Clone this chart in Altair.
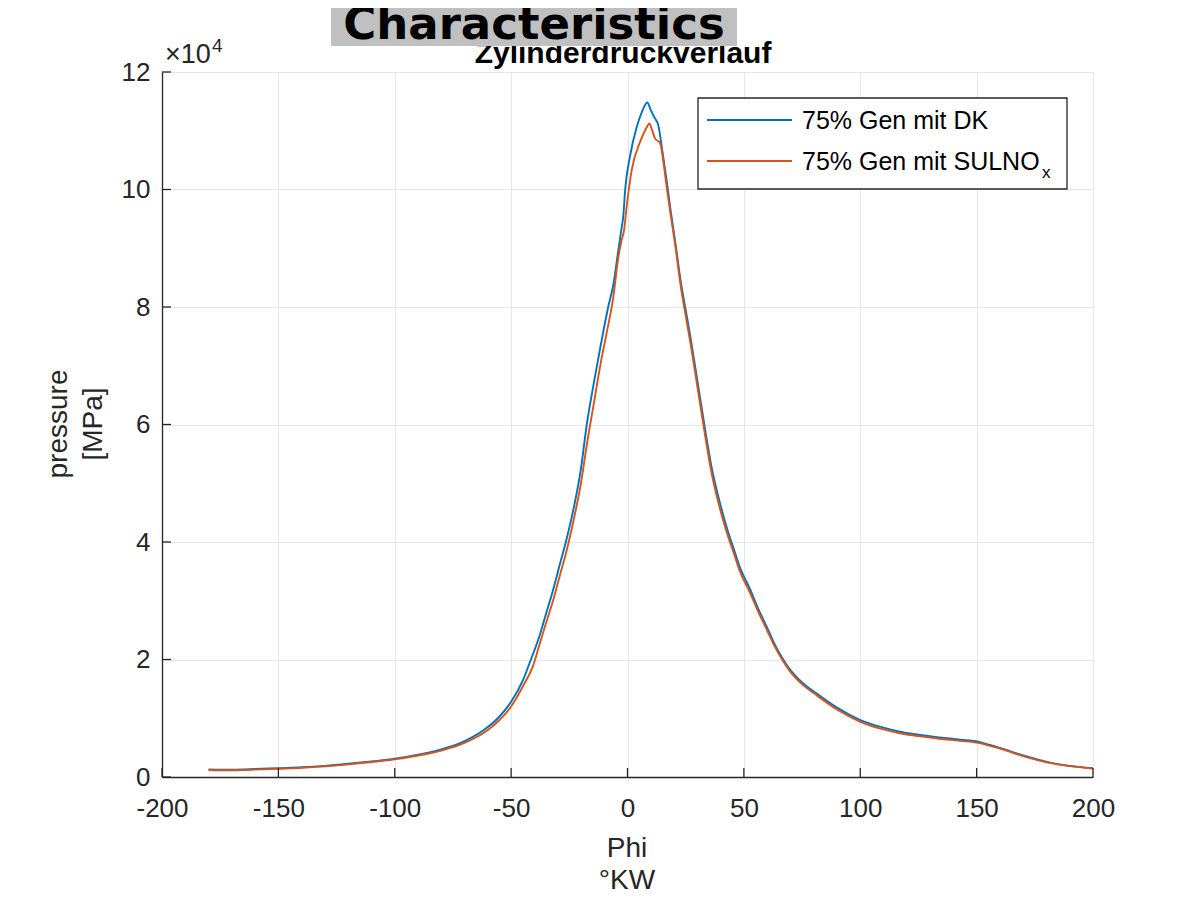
import altair as alt
import pandas as pd

# ---------------- data ----------------
series_names = ["75% Gen mit DK", "75% Gen mit SULNOx"]
series_colors = ["#0072BD", "#D95319"]

phi_dk = [-180, -170, -160, -150, -140, -130, -120, -110, -100, -90, -80, -70, -60, -55, -50,
          -45, -41.5, -38, -35, -32, -29, -26.5, -23, -20, -17.5, -14.5, -11.5, -8.3, -6, -4,
          -2.5, -1.8, -1, 1, 4, 6, 8.5, 10, 11.8, 13.2, 15, 16.8, 18.5, 20.4, 23, 25, 27, 30,
          33, 36, 39.5, 43, 45.5, 48, 52.6, 56, 59.8, 63, 66.9, 70, 75, 81.3, 90, 100, 110,
          117, 125, 134, 143, 150.7, 155.7, 162, 167.2, 175, 181.5, 190, 200]
p_dk = [1300, 1250, 1350, 1500, 1650, 1900, 2250, 2650, 3100, 3800, 4700, 6100, 8500, 10300, 12800,
        16400, 20000, 23800, 27800, 31800, 36300, 40000, 46000, 52500, 60000, 67000, 73500, 80000, 84000, 89500,
        93500, 95500, 100000, 105500, 110700, 113000, 114800, 113500, 112100, 111000, 106500, 101600, 96500, 91400, 84000, 79500, 75000, 67500,
        60000, 53000, 47000, 42000, 39000, 36000, 32000, 28800, 25600, 22800, 20000, 18200, 16100, 14200, 11800, 9700, 8400,
        7700, 7200, 6750, 6350, 6000, 5450, 4700, 4000, 3100, 2450, 1900, 1500]

phi_sul = [-180, -170, -160, -150, -140, -130, -120, -110, -100, -90, -80, -70, -60, -55, -50,
           -45, -40.5, -38, -35, -32, -29, -26.5, -23, -20, -17.5, -14.5, -11.5, -9, -6.1, -3.9,
           -2.5, -1.5, -0.35, 1.8, 5.4, 7.5, 9.4, 10.5, 11.8, 14, 15.5, 16.8, 18.5, 20.4, 23, 25, 27, 30,
           33, 36, 39.5, 43, 45.5, 48, 52.6, 56, 59.8, 63, 66.9, 70, 75, 81.3, 90, 100, 110,
           117, 125, 134, 143, 150.7, 155.7, 162, 167.2, 175, 181.5, 190, 200]
p_sul = [1200, 1150, 1250, 1400, 1550, 1800, 2150, 2550, 3000, 3650, 4500, 5800, 8000, 9700, 12000,
         15400, 19000, 22300, 26200, 30000, 34400, 38000, 44000, 50000, 56500, 63500, 70500, 75500, 81700, 88600,
         91400, 93000, 97100, 103300, 108100, 110000, 111200, 110200, 108700, 107900, 104500, 100500, 95800, 90800, 83200, 78500, 74000, 66500,
         59000, 52000, 46000, 41200, 38300, 35300, 31400, 28300, 25100, 22400, 19700, 17900, 15800, 13900, 11500, 9400, 8100,
         7450, 6950, 6500, 6150, 5800, 5300, 4600, 3900, 3000, 2400, 1850, 1450]

x_ticks = [-200, -150, -100, -50, 0, 50, 100, 150, 200]
y_ticks = [0, 20000, 40000, 60000, 80000, 100000, 120000]

# ---------------- layout ----------------
W, H = 931, 705
FONT = "Liberation Sans"
AX = "#262626"

df = pd.concat([
    pd.DataFrame({"phi": phi_dk, "p": p_dk, "series": series_names[0], "order": range(len(phi_dk))}),
    pd.DataFrame({"phi": phi_sul, "p": p_sul, "series": series_names[1], "order": range(len(phi_sul))}),
])

xs = alt.Scale(domain=[-200, 200], nice=False, zero=False)
ys = alt.Scale(domain=[0, 120000], nice=False, zero=False)

x_axis = alt.Axis(values=x_ticks, grid=True, gridColor="#e6e6e6", gridWidth=1,
                  domain=True, domainColor=AX, domainWidth=1.3, ticks=False,
                  labelFont=FONT, labelFontSize=26, labelColor=AX, labelPadding=18,
                  labelFlush=False, labelOverlap=False,
                  labelExpr="toString(datum.value)", title=None)
y_axis = alt.Axis(values=y_ticks, grid=True, gridColor="#e6e6e6", gridWidth=1,
                  domain=True, domainColor=AX, domainWidth=1.3, ticks=False,
                  labelFont=FONT, labelFontSize=26, labelColor=AX, labelPadding=12,
                  labelFlush=False, labelOverlap=False,
                  labelExpr="toString(datum.value / 10000)", title=None)

lines = alt.Chart(df).mark_line(strokeWidth=1.9, interpolate="monotone").encode(
    x=alt.X("phi:Q", scale=xs, axis=x_axis),
    y=alt.Y("p:Q", scale=ys, axis=y_axis),
    color=alt.Color("series:N", scale=alt.Scale(domain=series_names, range=series_colors), legend=None),
    order="order:Q",
)

xt = alt.Chart(pd.DataFrame({"v": x_ticks})).mark_rule(color=AX, strokeWidth=1.3).encode(
    x=alt.X("v:Q", scale=xs), y=alt.value(H), y2=alt.value(H - 9))
yt = alt.Chart(pd.DataFrame({"v": y_ticks})).mark_rule(color=AX, strokeWidth=1.3).encode(
    y=alt.Y("v:Q", scale=ys), x=alt.value(0), x2=alt.value(9))

one = pd.DataFrame({"a": [0]})

def txt(s, x, y, size, bold=False, font=FONT, align="center", angle=0, color=AX):
    kw = dict(font=font, fontSize=size, align=align, baseline="alphabetic", color=color)
    if bold:
        kw["fontWeight"] = "bold"
    if angle:
        kw["angle"] = angle
    return alt.Chart(one).mark_text(**kw).encode(x=alt.value(x), y=alt.value(y), text=alt.value(s))

# legend
leg_box = alt.Chart(one).mark_rect(fill="white", stroke=AX, strokeWidth=1.3).encode(
    x=alt.value(536), x2=alt.value(905), y=alt.value(26), y2=alt.value(117))
leg_l1 = alt.Chart(one).mark_rule(color=series_colors[0], strokeWidth=1.8).encode(
    x=alt.value(545), x2=alt.value(630), y=alt.value(48))
leg_l2 = alt.Chart(one).mark_rule(color=series_colors[1], strokeWidth=1.8).encode(
    x=alt.value(545), x2=alt.value(630), y=alt.value(89))
leg_t1 = txt("75% Gen mit DK", 640, 57, 25, align="left", color="black")
leg_t2 = txt("75% Gen mit SULNO", 640, 98, 25, align="left", color="black")
leg_t3 = txt("x", 880, 106, 17, align="left", color="black")

# titles and exponent
sub_title = txt("Zylinderdruckverlauf", 461, -9, 30, bold=True, color="black")
title_box = alt.Chart(one).mark_rect(fill="#c0c0c0").encode(
    x=alt.value(169), x2=alt.value(575), y=alt.value(-64), y2=alt.value(-26))
title = txt("Characteristics", 372, -33, 45, bold=True, font="DejaVu Sans", color="black")
exp1 = txt("×10", 3, -9, 27, align="left")
exp2 = txt("4", 50, -20, 19, align="left")

xt1 = txt("Phi", 465, 785, 28)
xt2 = txt("°KW", 465, 817, 28)
yt1 = txt("pressure", -95, 352, 28, angle=270)
yt2 = txt("[MPa]", -60, 352, 28, angle=270)

chart = alt.layer(
    lines, xt, yt, leg_box, leg_l1, leg_l2, leg_t1, leg_t2, leg_t3,
    sub_title, title_box, title, exp1, exp2, xt1, xt2, yt1, yt2,
).properties(
    width=W, height=H,
    autosize=alt.AutoSizeParams(type="none"),
    padding={"left": 154, "top": 64, "right": 93, "bottom": 118},
    background="white",
).configure_view(stroke=None)

chart.save("out.html", embed_options={"renderer": "svg", "actions": False})
